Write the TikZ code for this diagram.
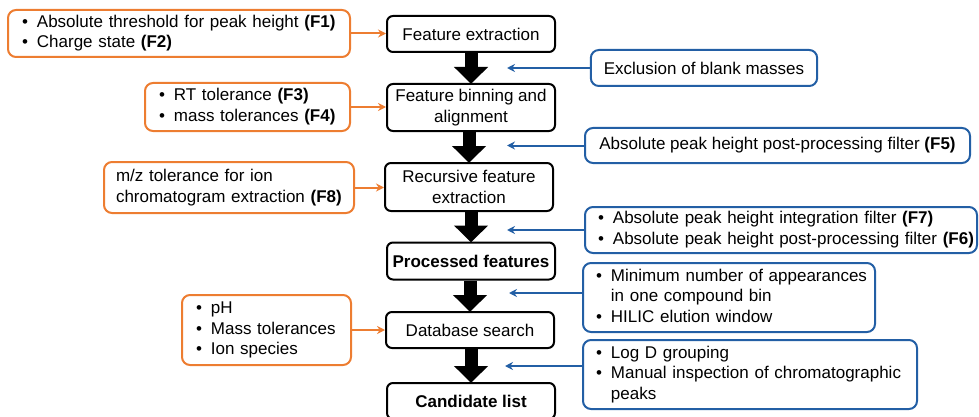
\documentclass[tikz,border=0pt]{standalone}
\usepackage{fontspec}
\setmainfont{Liberation Sans}
\usepackage{xcolor}
\usepackage{tikz}
\usetikzlibrary{arrows.meta,positioning}
\definecolor{paramorange}{RGB}{237,125,49}
\definecolor{filtblue}{RGB}{35,95,165}
\newcommand{\bodyfont}{\fontsize{17}{20.5}\selectfont}
% bullet lists inside the side boxes
\newcommand{\bullist}[1]{\begin{tabular}{@{}l@{\hspace{9pt}}l@{}}#1\end{tabular}}
\tikzset{
  stage/.style={draw, line width=2pt, rounded corners=6pt, minimum width=168pt, minimum height=36pt, align=center, font=\bodyfont, inner sep=2pt},
  param/.style={draw=paramorange, line width=2pt, rounded corners=8pt, align=left, font=\bodyfont, inner xsep=14pt, inner ysep=0pt},
  filt/.style={draw=filtblue, line width=2pt, rounded corners=8pt, align=left, font=\bodyfont, inner xsep=13pt, inner ysep=0pt},
  flow/.style={line width=13pt, -{Triangle[width=33pt,length=17pt]}, shorten >=-1pt},
  feedin/.style={paramorange, line width=2pt, -{Stealth[length=8pt,width=8pt]}},
  feedout/.style={filtblue, line width=2pt, -{Stealth[length=8pt,width=8pt]}}
}

\begin{document}
\begin{tikzpicture}[x=1pt, y=-1pt]
    \useasboundingbox (0,0) rectangle (979,417);

    % main workflow
    \node[stage] (extract) at (471,34) {Feature extraction};
    \node[stage, minimum height=47pt] (binning) at (471,107.5) {Feature binning and\\alignment};
    \node[stage, minimum height=48pt] (recursive) at (469,187) {Recursive feature\\extraction};
    \node[stage, minimum height=37pt] (processed) at (471,261) {\textbf{Processed features}};
    \node[stage] (dbsearch) at (470,330) {Database search};
    \node[stage] (candidates) at (471,401) {\textbf{Candidate list}};

    \draw[flow] (extract.south) -- (binning.north);
    \draw[flow] (binning.south -| recursive) -- (recursive.north);
    \draw[flow] (recursive.south -| processed) -- (processed.north);
    \draw[flow] (processed.south -| dbsearch) -- (dbsearch.north);
    \draw[flow] (dbsearch.south -| candidates) -- (candidates.north);

    % input parameters on the left
    \node[param, text width=314pt, minimum height=47pt] (pF12) at (179,33.5) {\bullist{\textbullet & Absolute threshold for peak height \textbf{(F1)}\\ \textbullet & Charge state \textbf{(F2)}}};
    \node[param, text width=177pt, minimum height=48pt] (pF34) at (247.5,107) {\bullist{\textbullet & RT tolerance \textbf{(F3)}\\ \textbullet & mass tolerances \textbf{(F4)}}};
    \node[param, text width=226pt, minimum height=51pt, inner xsep=12pt] (pF8) at (229,187.5) {m/z tolerance for ion\\chromatogram extraction \textbf{(F8)}};
    \node[param, text width=141pt, minimum height=70pt] (pdb) at (266.5,330) {\bullist{\textbullet & pH\\ \textbullet & Mass tolerances\\ \textbullet & Ion species}};

    \draw[feedin] (pF12.east) -- (pF12.east -| extract.west);
    \draw[feedin] (pF34.east) -- (pF34.east -| binning.west);
    \draw[feedin] (pF8.east) -- (pF8.east -| recursive.west);
    \draw[feedin] (pdb.east) -- (pdb.east -| dbsearch.west);

    % filters on the right
    \node[filt, minimum width=226pt, minimum height=36pt] (fblank) at (704,68) {Exclusion of blank masses};
    \node[filt, minimum width=385pt, minimum height=35pt] (fF5) at (777.5,145.5) {Absolute peak height post-processing filter \textbf{(F5)}};
    \node[filt, text width=366pt, minimum height=46pt] (fF76) at (781,230) {\bullist{\textbullet & Absolute peak height integration filter \textbf{(F7)}\\ \textbullet & Absolute peak height post-processing filter \textbf{(F6)}}};
    \node[filt, text width=266pt, minimum height=69pt] (fbin) at (729,297.5) {\bullist{\textbullet & Minimum number of appearances\\ & in one compound bin\\ \textbullet & HILIC elution window}};
    \node[filt, text width=308pt, minimum height=69pt] (flogd) at (750,374.5) {\bullist{\textbullet & Log D grouping\\ \textbullet & Manual inspection of chromatographic\\ & peaks}};

    \coordinate (tblank) at (507,68);
    \coordinate (tF5) at (507,145.5);
    \coordinate (tF76) at (507,230);
    \coordinate (tbin) at (509,293);
    \coordinate (tlogd) at (505,366);

    \draw[feedout] (fblank.west |- tblank) -- (tblank);
    \draw[feedout] (fF5.west |- tF5) -- (tF5);
    \draw[feedout] (fF76.west |- tF76) -- (tF76);
    \draw[feedout] (fbin.west |- tbin) -- (tbin);
    \draw[feedout] (flogd.west |- tlogd) -- (tlogd);
\end{tikzpicture}
\end{document}
